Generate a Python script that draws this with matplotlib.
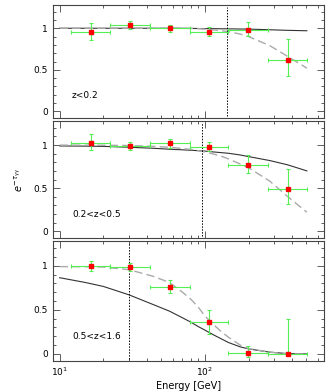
import numpy as np
import matplotlib.pyplot as plt
from matplotlib.ticker import LogLocator, MultipleLocator, FixedLocator, FixedFormatter

# energy bins (GeV)
e_lo = [12.0, 22.2, 42.0, 78.8, 145.0, 273.0]
e_mid = [16.4, 30.5, 57.4, 106.6, 199.0, 371.0]
e_hi = [22.2, 42.0, 78.8, 145.0, 273.0, 503.0]

labels = ['z<0.2', '0.2<z<0.5', '0.5<z<1.6']

# measured attenuation, with upper / lower ends of error bars
att = [
    [0.96, 1.04, 1.00, 0.96, 0.98, 0.62],
    [1.03, 0.99, 1.02, 0.98, 0.77, 0.49],
    [1.00, 0.99, 0.76, 0.36, 0.01, 0.00],
]
att_up = [
    [1.06, 1.09, 1.04, 1.02, 1.08, 0.87],
    [1.13, 1.04, 1.07, 1.04, 0.89, 0.72],
    [1.05, 1.03, 0.84, 0.50, 0.09, 0.40],
]
att_dn = [
    [0.86, 0.99, 0.95, 0.91, 0.91, 0.43],
    [0.94, 0.94, 0.97, 0.93, 0.67, 0.31],
    [0.94, 0.94, 0.69, 0.23, -0.03, 0.00],
]

# model curves
curve_e = [10, 15, 20, 30, 44, 57, 70, 80, 90, 100, 115, 130, 145, 175, 200, 280, 372, 503]
model_solid = [
    [1.0, 1.0, 1.0, 1.0, 1.0, 1.0, 1.0, 0.998, 0.997, 0.996, 0.995, 0.994, 0.993,
     0.991, 0.99, 0.982, 0.975, 0.97],
    [0.99, 0.988, 0.985, 0.975, 0.963, 0.952, 0.945, 0.94, 0.935, 0.93, 0.92, 0.912,
     0.905, 0.885, 0.866, 0.82, 0.77, 0.70],
    [0.864, 0.81, 0.765, 0.67, 0.56, 0.485, 0.41, 0.36, 0.31, 0.27, 0.215, 0.17,
     0.13, 0.08, 0.057, 0.02, 0.004, 0.0],
]
model_dash = [
    [1.0, 1.0, 1.0, 1.0, 1.0, 1.0, 1.0, 0.998, 0.995, 0.99, 0.98, 0.97, 0.96,
     0.93, 0.90, 0.79, 0.66, 0.52],
    [1.0, 0.999, 0.998, 0.995, 0.985, 0.975, 0.96, 0.95, 0.935, 0.92, 0.895, 0.87,
     0.84, 0.78, 0.736, 0.58, 0.40, 0.22],
    [0.99, 0.988, 0.985, 0.955, 0.88, 0.81, 0.70, 0.62, 0.53, 0.43, 0.33, 0.25,
     0.19, 0.10, 0.06, 0.02, 0.0, 0.0],
]
vlines = [142.5, 95.8, 30.2]

fig = plt.figure(figsize=(3.27, 3.92), dpi=100)
W, H = 327.0, 392.0
boxes = [(5, 118), (121, 238), (241, 361)]
left, right = 53, 324

for i, (top, bot) in enumerate(boxes):
    ax = fig.add_axes([left / W, 1 - bot / H, (right - left) / W, (bot - top) / H])
    ax.set_xscale('log')
    ax.set_xlim(9.0, 660)
    ax.set_ylim(-0.08, 1.28)

    ax.plot(curve_e, model_solid[i], color='#333333', lw=0.8)
    ax.plot(curve_e, model_dash[i], color='#aaaaaa', lw=1.0, dashes=(6, 3))
    ax.axvline(vlines[i], ymin=0.02, ymax=0.98, color='black', lw=0.7, ls=(0, (1.5, 1.5)))

    y = np.array(att[i])
    yerr = [y - np.array(att_dn[i]), np.array(att_up[i]) - y]
    xm = np.array(e_mid)
    xerr = [xm - np.array(e_lo), np.array(e_hi) - xm]
    ax.errorbar(xm, y, xerr=xerr, yerr=yerr, fmt='none', ecolor='#55ee55',
                elinewidth=0.8, capsize=1.5, capthick=0.8)
    ax.plot(xm, y, 's', color='red', ms=3.0, mec='red')

    ax.text(0.07, 0.18, labels[i], transform=ax.transAxes, fontsize=6.5)

    ax.yaxis.set_major_locator(FixedLocator([0, 0.5, 1]))
    ax.yaxis.set_major_formatter(FixedFormatter(['0', '0.5', '1']))
    ax.yaxis.set_minor_locator(MultipleLocator(0.1))
    ax.xaxis.set_major_locator(LogLocator(base=10))
    ax.xaxis.set_minor_locator(LogLocator(base=10, subs=np.arange(2, 10)))
    ax.tick_params(which='both', direction='in', top=True, right=True,
                   labelsize=6.5, width=0.6, color='#444444')
    ax.tick_params(which='major', length=5)
    ax.tick_params(which='minor', length=2.5)
    for s in ax.spines.values():
        s.set_linewidth(0.8)
        s.set_color('#444444')
    if i < 2:
        ax.tick_params(labelbottom=False)
    else:
        ax.set_xlabel('Energy [GeV]', fontsize=7, labelpad=2)
    if i == 1:
        ax.set_ylabel(r'$e^{-\tau_{\gamma\gamma}}$', fontsize=7, labelpad=6)

fig.savefig('out.png', dpi=100)
